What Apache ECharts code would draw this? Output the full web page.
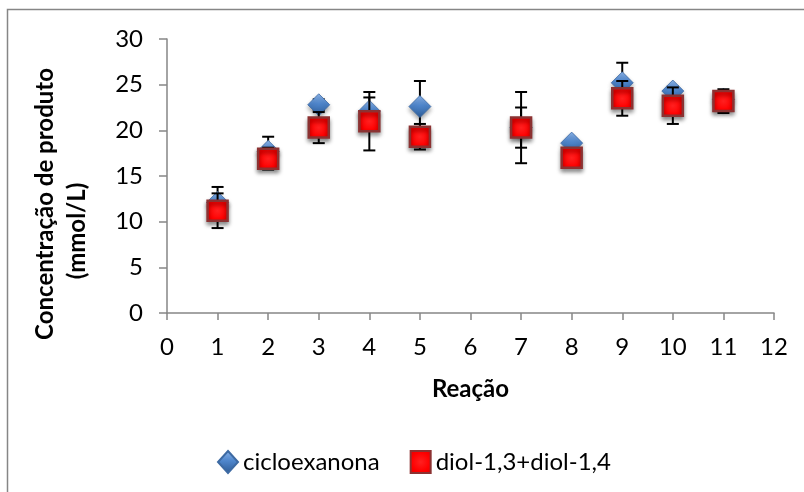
<!DOCTYPE html>
<html>
<head>
<meta charset="utf-8">
<script src="https://cdn.jsdelivr.net/npm/echarts@6/dist/echarts.min.js"></script>
<style>
html,body{margin:0;padding:0;background:#fff;}
#chart{width:804px;height:492px;}
</style>
</head>
<body>
<div id="chart"></div>
<script>
// Data
const reactions = [1, 2, 3, 4, 5, 7, 8, 9, 10, 11];
const cicloexanona = [12.1, 17.7, 22.8, 22.1, 22.6, 20.3, 18.6, 25.2, 24.3, 23.4];
const cicloexanonaErr = [1.7, 1.6, 0.6, 1.5, 2.8, 3.9, 0.3, 2.2, 0.5, 0.3];
const diol = [11.2, 16.9, 20.3, 21.0, 19.3, 20.3, 17.0, 23.5, 22.7, 23.2];
const diolErr = [1.9, 1.2, 1.7, 3.2, 1.4, 2.2, 0.4, 1.9, 2.0, 1.3];
const seriesNames = ['cicloexanona', 'diol-1,3+diol-1,4'];
const xTitle = 'Reação';
const yTitleLine1 = 'Concentração de produto';
const yTitleLine2 = '(mmol/L)';

const FONT = 'Lato, "Open Sans", sans-serif';

const chart = echarts.init(document.getElementById('chart'));

function errRender(params, api) {
  const x = api.value(0), y = api.value(1), e = api.value(2);
  const hi = api.coord([x, y + e]);
  const lo = api.coord([x, y - e]);
  const hw = 6;
  const style = { stroke: '#000', lineWidth: 2 };
  return {
    type: 'group',
    children: [
      { type: 'line', shape: { x1: hi[0], y1: hi[1], x2: lo[0], y2: lo[1] }, style },
      { type: 'line', shape: { x1: hi[0] - hw, y1: hi[1], x2: hi[0] + hw, y2: hi[1] }, style },
      { type: 'line', shape: { x1: lo[0] - hw, y1: lo[1], x2: lo[0] + hw, y2: lo[1] }, style }
    ]
  };
}

const blueFill = new echarts.graphic.LinearGradient(0, 0, 0, 1, [
  { offset: 0, color: '#8db5ea' },
  { offset: 0.45, color: '#4f86cc' },
  { offset: 1, color: '#2c5a94' }
]);
const redFill = new echarts.graphic.RadialGradient(0.5, 0.5, 0.7, [
  { offset: 0, color: '#ff2020' },
  { offset: 0.6, color: '#ff0000' },
  { offset: 1, color: '#e00000' }
]);

const option = {
  backgroundColor: '#fff',
  animation: false,
  textStyle: { fontFamily: FONT },
  grid: { left: 167, right: 30, top: 39, bottom: 179 },
  xAxis: {
    type: 'value', min: 0, max: 12, interval: 1,
    name: xTitle, nameLocation: 'middle', nameGap: 76,
    nameTextStyle: { fontFamily: FONT, fontSize: 24, fontWeight: 'bold', color: '#000', verticalAlign: 'middle' },
    axisLine: { show: true, onZero: false, lineStyle: { color: '#868686', width: 1.5 } },
    axisTick: { show: true, length: 7, lineStyle: { color: '#868686', width: 1.5 } },
    axisLabel: { fontFamily: FONT, fontSize: 24, color: '#000', margin: 22 },
    splitLine: { show: false }
  },
  yAxis: {
    type: 'value', min: 0, max: 30, interval: 5,
    axisLine: { show: true, lineStyle: { color: '#868686', width: 1.5 } },
    axisTick: { show: true, length: 8, lineStyle: { color: '#868686', width: 1.5 } },
    axisLabel: { fontFamily: FONT, fontSize: 24, color: '#000', margin: 24 },
    splitLine: { show: false }
  },
  legend: {
    left: 217, top: 450, padding: 0,
    itemWidth: 20, itemHeight: 22, itemGap: 30,
    textStyle: { fontFamily: FONT, fontSize: 24, color: '#000' },
    data: [
      { name: seriesNames[0], icon: 'diamond' },
      { name: seriesNames[1], icon: 'rect' }
    ]
  },
  graphic: [
    { type: 'rect', shape: { x: 7.5, y: 9.5, width: 900, height: 600 }, style: { fill: 'none', stroke: '#868686', lineWidth: 1.5 }, silent: true, z: -1 },
    { type: 'text', x: 45, y: 204, rotation: Math.PI / 2, style: { text: yTitleLine1, font: 'bold 24px ' + FONT, fill: '#000', align: 'center', verticalAlign: 'middle' } },
    { type: 'text', x: 77, y: 231, rotation: Math.PI / 2, style: { text: yTitleLine2, font: 'bold 24px ' + FONT, fill: '#000', align: 'center', verticalAlign: 'middle' } }
  ],
  series: [
    {
      type: 'custom', name: seriesNames[0] + ' err', renderItem: errRender, z: 2,
      data: reactions.map((x, i) => [x, cicloexanona[i], cicloexanonaErr[i]]),
      encode: { x: 0, y: 1 }, silent: true
    },
    {
      type: 'scatter', name: seriesNames[0], z: 3,
      symbol: 'diamond', symbolSize: [22, 22],
      itemStyle: { color: blueFill, opacity: 1, borderColor: '#3d6aa3', borderWidth: 0.8, shadowBlur: 4, shadowOffsetY: 3, shadowColor: 'rgba(0,0,0,0.35)' },
      data: reactions.map((x, i) => [x, cicloexanona[i]])
    },
    {
      type: 'custom', name: seriesNames[1] + ' err', renderItem: errRender, z: 4,
      data: reactions.map((x, i) => [x, diol[i], diolErr[i]]),
      encode: { x: 0, y: 1 }, silent: true
    },
    {
      type: 'scatter', name: seriesNames[1], z: 5,
      symbol: 'rect', symbolSize: [20, 20],
      itemStyle: { color: redFill, opacity: 1, borderColor: '#8c3232', borderWidth: 2.5, shadowBlur: 4, shadowOffsetY: 3, shadowColor: 'rgba(0,0,0,0.4)' },
      data: reactions.map((x, i) => [x, diol[i]])
    }
  ]
};
chart.setOption(option);
</script>
</body>
</html>
